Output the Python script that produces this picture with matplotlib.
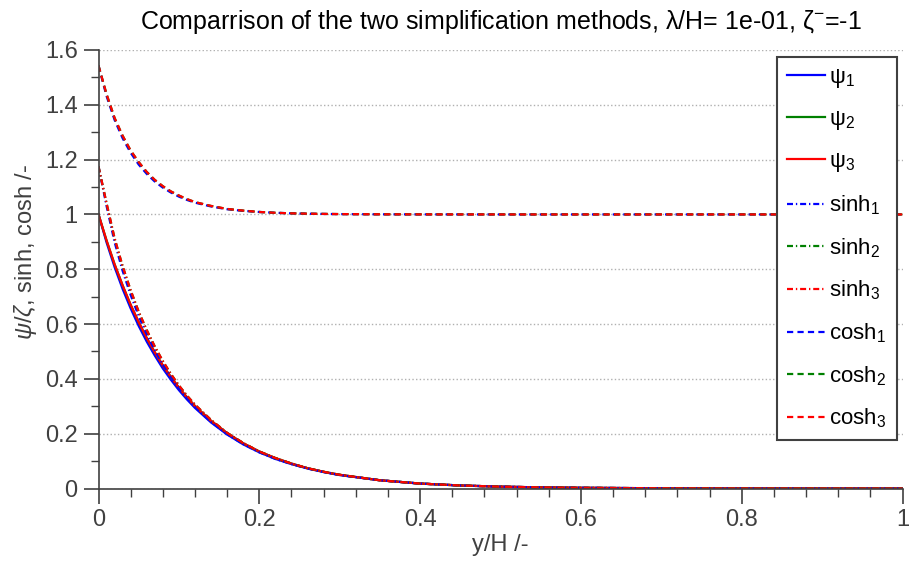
import matplotlib.pyplot as plt
import numpy as np
from matplotlib.ticker import MultipleLocator

plt.rcParams.update({'font.size': 17, 'font.family': 'Liberation Sans',
                     'mathtext.fontset': 'custom',
                     'mathtext.rm': 'Liberation Sans',
                     'mathtext.it': 'Liberation Sans:italic'})

# y/H positions and the profiles for the three simplifications
y_h = [0, .01, .02, .03, .04, .05, .06, .07, .08, .09, .10, .11, .12, .14,
       .16, .18, .20, .22, .24, .26, .28, .30, .35, .40, .45, .50, .55, .60,
       .70, .80, .90, 1.0]

psi_1 = [1.000, .898, .808, .728, .657, .593, .536, .485, .438, .397, .359,
         .325, .294, .241, .197, .161, .132, .108, .089, .073, .060, .049,
         .030, .018, .011, .0067, .0041, .0025, .0009, .0003, .0001, 0]
psi_2 = [1.000, .905, .818, .741, .670, .607, .549, .497, .449, .407, .368,
         .333, .301, .247, .202, .165, .135, .111, .091, .074, .061, .050,
         .030, .018, .011, .0067, .0041, .0025, .0009, .0003, .0001, 0]
psi_3 = [1.000, .905, .818, .741, .670, .607, .549, .497, .449, .407, .368,
         .333, .301, .247, .202, .165, .135, .111, .091, .074, .061, .050,
         .030, .018, .011, .0067, .0041, .0025, .0009, .0003, .0001, 0]

sinh_1 = [1.175, 1.031, .899, .794, .706, .629, .563, .505, .452, .408, .367,
          .331, .298, .243, .198, .162, .132, .108, .089, .073, .060, .049,
          .030, .018, .011, .0067, .0041, .0025, .0009, .0003, .0001, 0]
sinh_2 = [1.175, 1.041, .913, .811, .723, .645, .578, .518, .465, .418, .376,
          .339, .306, .250, .203, .166, .135, .111, .091, .074, .061, .050,
          .030, .018, .011, .0067, .0041, .0025, .0009, .0003, .0001, 0]
sinh_3 = [1.175, 1.041, .913, .811, .723, .645, .578, .518, .465, .418, .376,
          .339, .306, .250, .203, .166, .135, .111, .091, .074, .061, .050,
          .030, .018, .011, .0067, .0041, .0025, .0009, .0003, .0001, 0]

cosh_1 = [1.543, 1.432, 1.345, 1.278, 1.225, 1.182, 1.148, 1.120, 1.098,
          1.080, 1.065, 1.053, 1.043, 1.029, 1.019, 1.013, 1.009, 1.006,
          1.004, 1.0027, 1.0018, 1.0012, 1.0005, 1.0002, 1.0001, 1, 1, 1,
          1, 1, 1, 1]
cosh_2 = [1.543, 1.439, 1.352, 1.287, 1.233, 1.191, 1.155, 1.126, 1.103,
          1.084, 1.069, 1.056, 1.045, 1.031, 1.020, 1.014, 1.009, 1.006,
          1.004, 1.0028, 1.0019, 1.0013, 1.0005, 1.0002, 1.0001, 1, 1, 1,
          1, 1, 1, 1]
cosh_3 = [1.543, 1.439, 1.352, 1.287, 1.233, 1.191, 1.155, 1.126, 1.103,
          1.084, 1.069, 1.056, 1.045, 1.031, 1.020, 1.014, 1.009, 1.006,
          1.004, 1.0028, 1.0019, 1.0013, 1.0005, 1.0002, 1.0001, 1, 1, 1,
          1, 1, 1, 1]

colors = ['#0000ff', '#008000', '#ff0000']
axcol = '#404040'

fig = plt.figure(figsize=[9.09, 5.68], dpi=100)
ax = fig.add_axes([98.5 / 909, 1 - 488.5 / 568, 804 / 909, 438.5 / 568])

lw = 1.6
dashdot = (2.7, 1.3, 0.6, 1.3)
dashed = (2.8, 1.9)
for i, p in enumerate([psi_1, psi_2, psi_3]):
    ax.plot(y_h, p, '-', color=colors[i], lw=lw, label=r'ψ$_{%d}$' % (i + 1))
for i, s in enumerate([sinh_1, sinh_2, sinh_3]):
    ax.plot(y_h, s, '-.', dashes=dashdot, color=colors[i], lw=lw,
            label=r'sinh$_{%d}$' % (i + 1))
for i, c in enumerate([cosh_1, cosh_2, cosh_3]):
    ax.plot(y_h, c, '--', dashes=dashed, color=colors[i], lw=lw,
            label=r'cosh$_{%d}$' % (i + 1))

ax.set_xlim(0, 1)
ax.set_ylim(0, 1.6)
ax.xaxis.set_major_locator(MultipleLocator(0.2))
ax.xaxis.set_minor_locator(MultipleLocator(0.04))
ax.yaxis.set_major_locator(MultipleLocator(0.2))
ax.yaxis.set_minor_locator(MultipleLocator(0.1))
fmt = plt.FuncFormatter(lambda v, p: '%g' % round(v, 2))
ax.xaxis.set_major_formatter(fmt)
ax.yaxis.set_major_formatter(fmt)

for s in ['top', 'right']:
    ax.spines[s].set_visible(False)
for s in ['left', 'bottom']:
    ax.spines[s].set_color(axcol)
    ax.spines[s].set_linewidth(1.2)
ax.tick_params(which='major', direction='out', length=11, width=1.2,
               color=axcol, labelcolor=axcol, labelsize=17, pad=4)
ax.tick_params(which='minor', direction='out', length=5.5, width=1.0, color=axcol)
ax.yaxis.grid(True, which='major', linestyle=':', color='#b0b0b0', lw=1.0)

ax.set_xlabel('y/H /-', color=axcol, fontsize=17, labelpad=2)
ax.set_ylabel(r'$\psi/\zeta$, sinh, cosh /-', color=axcol, fontsize=17)
ax.yaxis.set_label_coords(-0.074, 0.54)
ax.set_title(r'Comparrison of the two simplification methods, λ/H= 1e-01, ζ$^{-}$=-1',
             fontsize=18, pad=15)

leg = ax.legend(loc='upper right', bbox_to_anchor=(1 - 6 / 804, 1 - 7 / 438.5),
                fontsize=16, fancybox=False, framealpha=1, edgecolor=axcol,
                handlelength=1.7, handletextpad=0.2, labelspacing=0.86,
                borderpad=0.45, borderaxespad=0)
leg.get_frame().set_linewidth(1.5)

plt.savefig('out.png', dpi=100)
